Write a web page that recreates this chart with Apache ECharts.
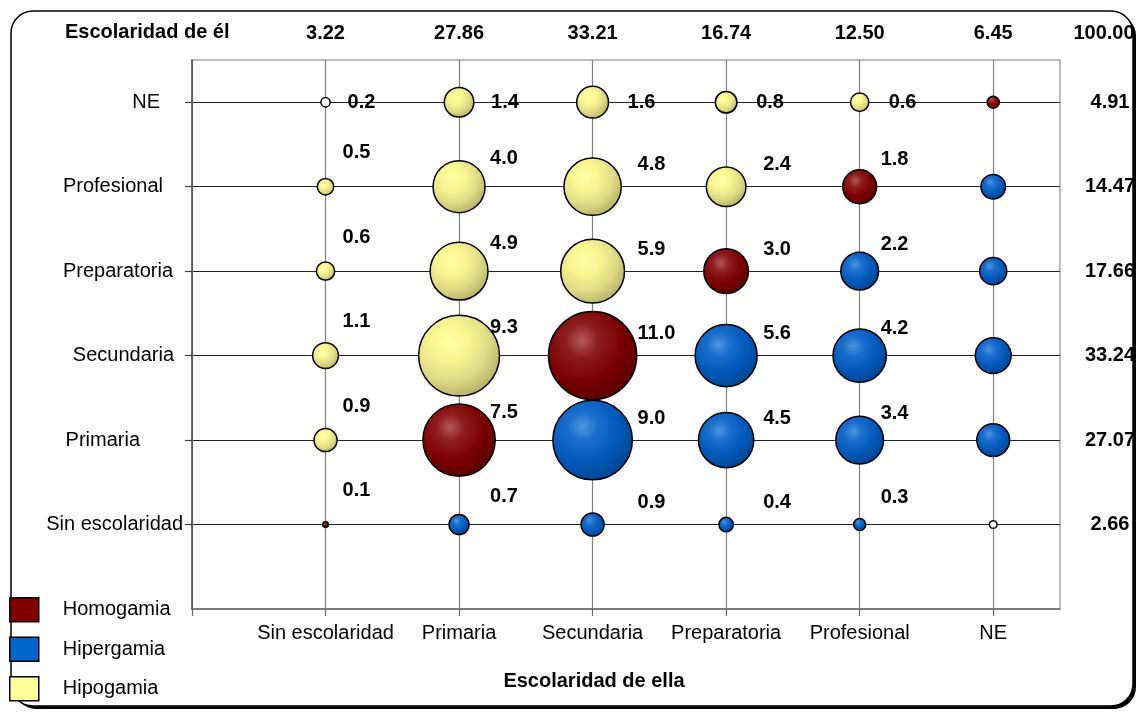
<!DOCTYPE html>
<html><head><meta charset="utf-8">
<script src="https://cdn.jsdelivr.net/npm/echarts@6/dist/echarts.min.js"></script>
<style>html,body{margin:0;padding:0;background:#fff}#c{width:1138px;height:712px}</style>
</head><body><div id="c"></div>
<script>
// ---------- DATA ----------
const ellaLevels = ['Sin escolaridad','Primaria','Secundaria','Preparatoria','Profesional','NE'];
const elLevels   = ['Sin escolaridad','Primaria','Secundaria','Preparatoria','Profesional','NE'];
const ellaTotals = ['3.22','27.86','33.21','16.74','12.50','6.45'];
const elTotals   = ['2.66','27.07','33.24','17.66','14.47','4.91'];
const grandTotal = '100.00';
const legendNames = ['Homogamia','Hipergamia','Hipogamia'];
// percentages: one array per level of "él", values across levels of "ella"
const elSinEsc       = [0.1, 0.7, 0.9, 0.4, 0.3, 0.15];
const elPrimaria     = [0.9, 7.5, 9.0, 4.5, 3.4, 1.7];
const elSecundaria   = [1.1, 9.3, 11.0, 5.6, 4.2, 2.0];
const elPreparatoria = [0.6, 4.9, 5.9, 3.0, 2.2, 1.2];
const elProfesional  = [0.5, 4.0, 4.8, 2.4, 1.8, 1.0];
const elNE           = [0.2, 1.4, 1.6, 0.8, 0.6, 0.3];
const rows = [elSinEsc, elPrimaria, elSecundaria, elPreparatoria, elProfesional, elNE];

// ---------- STYLE ----------
const FONT = 'Liberation Sans, Arial, sans-serif';
const labelDx = [17, 31, 45, 37, 21];
const labelDy = [-34, -28, -22, -22, -27];
const neRowDx = [22, 32, 35, 30, 29];
const yLabelPad = [0, 43, 9, 10, 20, 23];
function radial(stops){
  return {type:'radial', x:0.38, y:0.33, r:0.75,
    colorStops: stops.map(s=>({offset:s[0], color:s[1]}))};
}
const fills = [
  radial([[0,'#b25a5a'],[0.25,'#8f1c1c'],[0.6,'#7a0000'],[1,'#560000']]),
  radial([[0,'#4d96de'],[0.25,'#1b6dcd'],[0.6,'#0058b8'],[1,'#00428a']]),
  radial([[0,'#ffffa6'],[0.3,'#f9f692'],[0.62,'#e0dc86'],[1,'#ada862']])
];
const legendColors = ['#800000','#0066cc','#ffff99'];

// ---------- BUILD ----------
const groups = [[],[],[]];
rows.forEach((vals, r) => {
  vals.forEach((v, c) => {
    const g = c === r ? 0 : (c > r ? 1 : 2);
    const item = {value:[c+1, r+1, v]};
    if (c < 5) {
      item.label = {show:true, offset: r === 5 ? [neRowDx[c], 0] : [labelDx[c], labelDy[c]]};
    } else {
      item.label = {show:false};
    }
    if (v < 0.25 && g !== 0) item.itemStyle = {color:'#fff'};
    groups[g].push(item);
  });
});

const series = groups.map((data, g) => ({
  name: legendNames[g],
  type: 'scatter',
  data: data,
  symbolSize: d => Math.max(4, 27.5*Math.sqrt(d[2]) - 3),
  itemStyle: {color: fills[g], borderColor:'#000', borderWidth:1.5, opacity:1},
  label: {position:'inside', align:'left', verticalAlign:'middle',
    formatter: p => p.value[2].toFixed(1),
    fontFamily: FONT, fontSize:20, fontWeight:'bold', color:'#000'},
  emphasis: {disabled:true},
  z: 3
}));

const rich = {};
yLabelPad.forEach((p,i)=>{ rich['p'+i] = {fontFamily:FONT, fontSize:20, color:'#000', padding:[0,p,0,0]}; });

const option = {
  animation:false,
  backgroundColor:'transparent',
  grid:{left:192, right:78, top:60, bottom:103, show:true, borderColor:'#a6a6a6', borderWidth:1.5},
  legend:{
    orient:'vertical', left:9, top:597, padding:0, itemWidth:29, itemHeight:24, itemGap:14,
    icon:'rect', selectedMode:false,
    textStyle:{fontFamily:FONT, fontSize:20, color:'#000', padding:[0,0,0,19], lineHeight:24},
    data: legendNames.map((n,i)=>({name:n, itemStyle:{color:legendColors[i], borderColor:'#000', borderWidth:1.5}}))
  },
  xAxis:[{
    type:'value', min:0, max:6.5, interval:1, position:'bottom',
    axisLine:{show:true, lineStyle:{color:'#666', width:1.5}},
    axisTick:{show:true, length:7, customValues:[0,1,2,3,4,5,6], lineStyle:{color:'#666', width:1.2}},
    axisLabel:{customValues:[1,2,3,4,5,6], formatter:v=>ellaLevels[Math.round(v)-1], fontFamily:FONT, fontSize:20, color:'#000', margin:14},
    splitLine:{show:true, lineStyle:{color:'#808080', width:1.2}},
    name:'Escolaridad de ella', nameLocation:'middle', nameGap:62,
    nameTextStyle:{fontFamily:FONT, fontSize:20, fontWeight:'bold', color:'#000', padding:[0,64,0,0]}
  },{
    type:'value', min:0, max:6.5, interval:1, position:'top',
    axisLine:{show:false}, axisTick:{show:false}, splitLine:{show:false},
    axisLabel:{customValues:[1,2,3,4,5,6], formatter:v=>ellaTotals[Math.round(v)-1], fontFamily:FONT, fontSize:20, fontWeight:'bold', color:'#000', margin:17}
  }],
  yAxis:[{
    type:'value', min:0, max:6.5, interval:1, position:'left',
    axisLine:{show:true, lineStyle:{color:'#555', width:1.5}},
    axisTick:{show:true, length:7, customValues:[1,2,3,4,5,6], lineStyle:{color:'#444', width:1.2}},
    axisLabel:{customValues:[1,2,3,4,5,6], margin:9,
      formatter:v=>{const i=Math.round(v)-1; return '{p'+i+'|'+elLevels[i]+'}';}, rich:rich},
    splitLine:{show:true, lineStyle:{color:'#222', width:1}}
  },{
    type:'value', min:0, max:6.5, interval:1, position:'right',
    axisLine:{show:false}, axisTick:{show:false}, splitLine:{show:false},
    axisLabel:{customValues:[1,2,3,4,5,6], formatter:v=>elTotals[Math.round(v)-1], align:'center', margin:50,
      fontFamily:FONT, fontSize:20, fontWeight:'bold', color:'#000'}
  }],
  graphic:[
    {type:'rect', z:-11, silent:true,
     shape:{x:14, y:14, width:1122, height:695, r:22},
     style:{fill:'#000', stroke:null}},
    {type:'rect', z:-10, silent:true,
     shape:{x:11, y:11, width:1122, height:695, r:22},
     style:{fill:'#fff', stroke:'#000', lineWidth:1.5}},
    {type:'text', left:65, top:22, z:5, silent:true,
     style:{text:'Escolaridad de él', fontFamily:FONT, fontSize:20, fontWeight:'bold', fill:'#000'}},
    {type:'text', x:1104, y:33, z:5, silent:true,
     style:{text:grandTotal, fontFamily:FONT, fontSize:20, fontWeight:'bold', fill:'#000', align:'center', verticalAlign:'middle'}}
  ],
  series: series
};
const chart = echarts.init(document.getElementById('c'), null, {renderer:'canvas'});
chart.setOption(option);
</script>
</body></html>
